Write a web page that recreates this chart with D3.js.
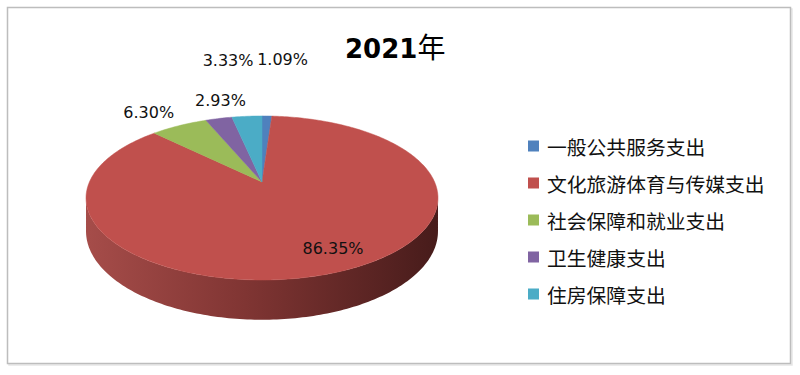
<!DOCTYPE html>
<html>
<head>
<meta charset="utf-8">
<script src="https://cdn.jsdelivr.net/npm/d3@7"></script>
<style>
  body { margin: 0; background: #fff; }
  svg { display: block; }
</style>
</head>
<body>
<div id="chart"></div>
<script>
// data
var categories = ["一般公共服务支出", "文化旅游体育与传媒支出", "社会保障和就业支出", "卫生健康支出", "住房保障支出"];
var values = [1.09, 86.35, 6.30, 2.93, 3.33];
var labels = ["1.09%", "86.35%", "6.30%", "2.93%", "3.33%"];
var colors = ["#4f81bd", "#c0504d", "#9bbb59", "#8064a2", "#4bacc6"];

var width = 800, height = 375;

var svg = d3.select("#chart").append("svg")
  .attr("width", width)
  .attr("height", height);

// outer frame (with a faint shadow)
svg.append("rect")
  .attr("x", 9).attr("y", 9)
  .attr("width", 783).attr("height", 356)
  .attr("fill", "none")
  .attr("stroke", "#e6e6e6")
  .attr("stroke-width", 1.5);
svg.append("rect")
  .attr("x", 7.5).attr("y", 7.5)
  .attr("width", 783).attr("height", 356)
  .attr("fill", "#fff")
  .attr("stroke", "#bdbdbd")
  .attr("stroke-width", 1.5);

// title
var title = svg.append("text")
  .attr("x", 345).attr("y", 58)
  .attr("font-family", "DejaVu Sans, sans-serif")
  .attr("font-size", 26)
  .attr("font-weight", "bold")
  .attr("fill", "#000");
title.append("tspan").text("2021");
title.append("tspan")
  .attr("font-family", "Noto Sans CJK SC")
  .attr("font-weight", "normal")
  .attr("font-size", 28)
  .text("年");

// perspective projection of the pie disc
// u: depth (-1 far, +1 near), sx: across
var cx = 262, rx = 172.6, pa = 43.4, pb = 182, pc = -0.195, depth = 32;
function proj(phi, k, h) {
  var u = -k * Math.cos(phi), sx = k * Math.sin(phi);
  var den = 1 + pc * u;
  return [cx + rx * sx / den, (pa * u + pb + (h || 0)) / den];
}

var pie = d3.pie().sort(null).value(function(d) { return d; });
var arcs = pie(values);

function arcPoints(a0, a1, k, h) {
  var n = Math.max(2, Math.ceil(Math.abs(a1 - a0) / (Math.PI / 180)));
  var pts = [];
  for (var i = 0; i <= n; i++) pts.push(proj(a0 + (a1 - a0) * i / n, k, h));
  return pts;
}

var line = d3.line();

// side wall (front half) - the red slice covers it
var defs = svg.append("defs");
var grad = defs.append("linearGradient")
  .attr("id", "side")
  .attr("gradientUnits", "userSpaceOnUse")
  .attr("x1", cx - rx).attr("x2", cx + rx).attr("y1", 0).attr("y2", 0);
grad.append("stop").attr("offset", 0).attr("stop-color", "#a54c49");
grad.append("stop").attr("offset", 0.45).attr("stop-color", "#803533");
grad.append("stop").attr("offset", 1).attr("stop-color", "#481c1b");

var edge = Math.acos(pc); // where the outline turns
var wall = arcPoints(edge, 2 * Math.PI - edge, 1, 0)
  .concat(arcPoints(2 * Math.PI - edge, edge, 1, depth));
svg.append("path")
  .attr("d", line(wall) + "Z")
  .attr("fill", "url(#side)");

// top face
var centre = proj(0, 0);
svg.selectAll(".slice")
  .data(arcs)
  .enter().append("path")
  .attr("class", "slice")
  .attr("d", function(d) {
    return line([centre].concat(arcPoints(d.startAngle, d.endAngle, 1, 0))) + "Z";
  })
  .attr("fill", function(d, i) { return colors[i]; })
  .attr("stroke", function(d, i) { return colors[i]; })
  .attr("stroke-width", 0.5);

// data labels (radius factor and nudge per label)
var labelK = [1.15, 0.6, 1.15, 1.15, 1.15];
var labelNudge = [[15, -48], [30, 17], [-20, -6], [7, -10], [-17, -48]];
svg.selectAll(".lbl")
  .data(arcs)
  .enter().append("text")
  .attr("class", "lbl")
  .attr("transform", function(d, i) {
    var p = proj((d.startAngle + d.endAngle) / 2, labelK[i]);
    return "translate(" + (p[0] + labelNudge[i][0]) + "," + (p[1] + labelNudge[i][1]) + ")";
  })
  .attr("text-anchor", "middle")
  .attr("dominant-baseline", "central")
  .attr("font-family", "DejaVu Sans, sans-serif")
  .attr("font-size", 16)
  .attr("fill", "#111")
  .text(function(d, i) { return labels[i]; });

// legend
var legend = svg.append("g").attr("transform", "translate(528,146)");
var item = legend.selectAll(".item")
  .data(categories)
  .enter().append("g")
  .attr("class", "item")
  .attr("transform", function(d, i) { return "translate(0," + (i * 37) + ")"; });
item.append("rect")
  .attr("x", 0).attr("y", -5.5)
  .attr("width", 11).attr("height", 11)
  .attr("fill", function(d, i) { return colors[i]; });
item.append("text")
  .attr("x", 19).attr("y", 0)
  .attr("dominant-baseline", "central")
  .attr("font-family", "Noto Sans CJK SC, sans-serif")
  .attr("font-size", 19.8)
  .attr("fill", "#111")
  .text(function(d) { return d; });
</script>
</body>
</html>
